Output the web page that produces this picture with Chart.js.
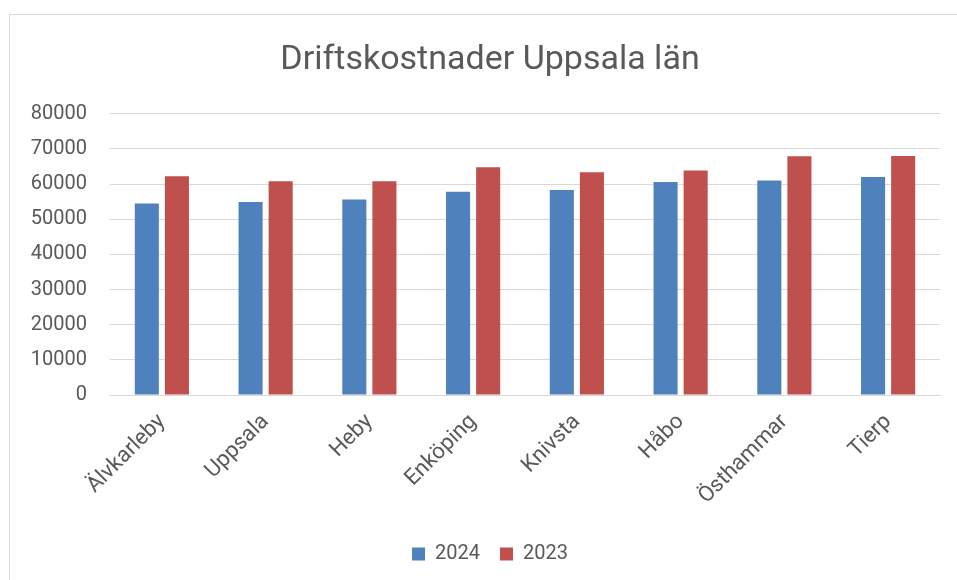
<!DOCTYPE html>
<html>
<head>
<meta charset="utf-8">
<script src="https://cdn.jsdelivr.net/npm/chart.js@4"></script>
<style>
  body { margin: 0; background: #fff; overflow: hidden; }
  #frame { position: absolute; left: 9px; top: 14px; width: 970px; height: 600px; border: 1px solid #d9d9d9; }
  #chart { position: absolute; left: 0; top: 0; }
</style>
</head>
<body>
<div id="frame"><canvas id="chart" width="960" height="559"></canvas></div>
<script>
const kommuner = ["Älvkarleby", "Uppsala", "Heby", "Enköping", "Knivsta", "Håbo", "Östhammar", "Tierp"];
const kostnad2024 = [54500, 54900, 55600, 57800, 58300, 60600, 61000, 62000];
const kostnad2023 = [62200, 60800, 60800, 64800, 63400, 63900, 67900, 68000];
const yMin = 0;
const yMax = 80000;
const yStep = 10000;

const textColor = "#595959";
const gridColor = "#d9d9d9";
const fontFamily = "Roboto, 'Noto Sans', sans-serif";

new Chart(document.getElementById('chart'), {
    type: 'bar',
    data: {
        labels: kommuner,
        datasets: [{
            label: "2024",
            data: kostnad2024,
            backgroundColor: "#4f81bd",
            barPercentage: 0.8,
            categoryPercentage: 0.58
        }, {
            label: "2023",
            data: kostnad2023,
            backgroundColor: "#c0504d",
            barPercentage: 0.8,
            categoryPercentage: 0.58
        }]
    },
    options: {
        responsive: false,
        animation: false,
        layout: { padding: { left: 15, right: 15, top: 0, bottom: 0 } },
        plugins: {
            title: {
                display: true,
                text: "Driftskostnader Uppsala län",
                color: textColor,
                font: { family: fontFamily, size: 34, weight: 'normal' },
                padding: { top: 25, bottom: 33 }
            },
            legend: {
                position: 'bottom',
                labels: {
                    color: textColor,
                    font: { family: fontFamily, size: 20 },
                    boxWidth: 13,
                    boxHeight: 13,
                    padding: 20
                }
            },
            tooltip: { enabled: false }
        },
        scales: {
            x: {
                grid: { display: false },
                border: { color: gridColor, width: 1 },
                ticks: {
                    color: textColor,
                    font: { family: fontFamily, size: 22 },
                    minRotation: 45,
                    maxRotation: 45,
                    autoSkip: false,
                    padding: 6
                },
                afterFit: function (scale) {
                    scale.height = 129;
                    scale.paddingLeft = 0;
                    scale.paddingRight = 0;
                }
            },
            y: {
                min: yMin,
                max: yMax,
                grid: { color: gridColor, drawTicks: false },
                border: { display: false },
                ticks: {
                    stepSize: yStep,
                    color: textColor,
                    font: { family: fontFamily, size: 20 },
                    padding: 23,
                    callback: v => String(v)
                },
                afterFit: function (scale) { scale.width = 85; }
            },
            // empty right-hand margin so title and legend sit where the reference has them
            spacer: {
                type: 'linear',
                position: 'right',
                grid: { display: false },
                border: { display: false },
                ticks: { display: false },
                afterFit: function (scale) { scale.width = 15; }
            }
        }
    }
});
</script>
</body>
</html>
